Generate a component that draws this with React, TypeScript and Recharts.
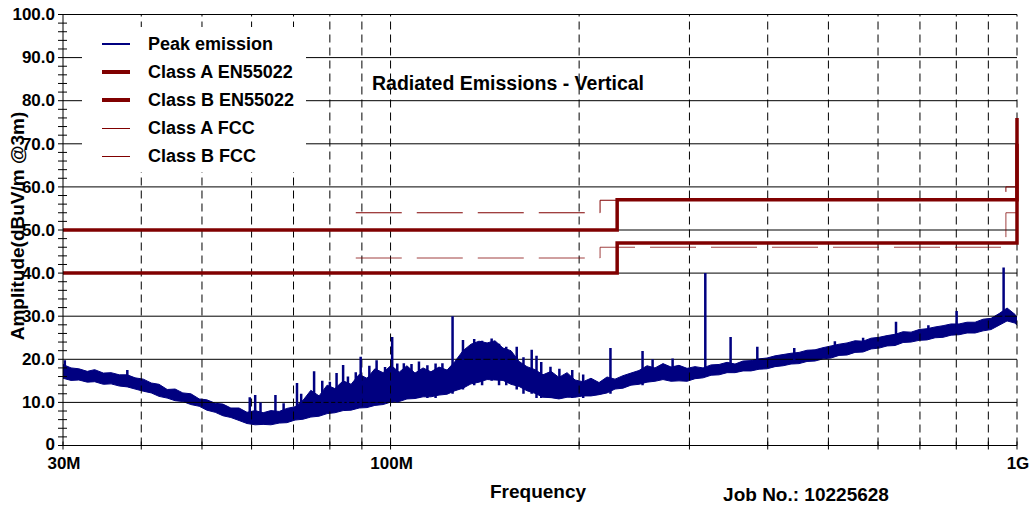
import React from "react";
import { ComposedChart, Line, Area, XAxis, YAxis, ReferenceLine, Legend } from "recharts";

const FONT = '"Liberation Sans", Arial, Helvetica, sans-serif';
const NAVY = "#000080";
const MAROON = "#800000";

// frequency axis, MHz
const xAxisTicks = [30, 40, 50, 60, 70, 80, 90, 100, 200, 300, 400, 500, 600, 700, 800, 900, 1000];
const xGridTicks = [40, 50, 60, 70, 80, 90, 100, 200, 300, 400, 500, 600, 700, 800, 900, 1000];
const xLabelTicks = [30, 100, 1000];
const xLabels = ["30M", "100M", "1G"];

// amplitude axis, dBuV/m
const yMajorTicks = [0, 10, 20, 30, 40, 50, 60, 70, 80, 90, 100];
const yMajorLabels = ["0", "10.0", "20.0", "30.0", "40.0", "50.0", "60.0", "70.0", "80.0", "90.0", "100.0"];
const yMinorTicks = [
  2, 4, 6, 8, 12, 14, 16, 18, 22, 24, 26, 28, 32, 34, 36, 38, 42, 44, 46, 48,
  52, 54, 56, 58, 62, 64, 66, 68, 72, 74, 76, 78, 82, 84, 86, 88, 92, 94, 96, 98,
];

// peak emission: noise floor band (low / high envelope)
const bandFreq = [
  30.0, 30.9, 31.8, 32.8, 33.7, 34.8, 35.8, 36.9, 38.0, 39.1,
  40.3, 41.5, 42.7, 44.0, 45.3, 46.6, 48.0, 49.5, 50.9, 52.5,
  54.0, 55.6, 57.3, 59.0, 60.8, 62.6, 64.4, 66.4, 68.3, 70.4,
  72.5, 74.6, 76.9, 79.2, 81.5, 84.0, 86.5, 89.1, 91.7, 94.4,
  97.3, 100.2, 103.2, 106.2, 109.4, 112.7, 116.0, 119.5, 123.1, 126.7,
  130.5, 134.4, 138.4, 142.6, 146.8, 151.2, 155.7, 160.4, 165.1, 170.1,
  175.1, 180.4, 185.7, 191.3, 197.0, 202.9, 208.9, 215.2, 221.6, 228.2,
  235.0, 242.0, 249.2, 256.7, 264.3, 272.2, 280.4, 288.7, 297.4, 306.2,
  315.4, 324.8, 334.5, 344.5, 354.7, 365.3, 376.2, 387.5, 399.0, 410.9,
  423.2, 435.8, 448.8, 462.2, 476.0, 490.2, 504.9, 519.9, 535.5, 551.4,
  567.9, 584.9, 602.3, 620.3, 638.8, 657.9, 677.5, 697.7, 718.5, 740.0,
  762.1, 784.8, 808.2, 832.4, 857.2, 882.8, 909.1, 936.3, 964.2, 993.0,
  1000,
];
const bandLow = [
  15.6, 15.1, 15.2, 14.7, 14.8, 14.2, 14.3, 13.8, 13.6, 13.1,
  12.6, 12.2, 11.4, 11.0, 10.4, 10.2, 9.5, 9.1, 8.2, 7.7,
  6.9, 6.5, 5.8, 5.1, 4.8, 4.9, 4.8, 5.2, 5.3, 5.9,
  6.1, 6.6, 6.8, 7.4, 7.6, 8.1, 8.2, 8.7, 8.8, 9.3,
  9.5, 10.1, 10.2, 10.8, 10.9, 11.3, 11.3, 11.7, 11.9, 12.7,
  13.3, 14.3, 14.7, 15.3, 15.2, 15.1, 14.2, 13.7, 12.7, 12.1,
  11.2, 11.1, 10.8, 11.2, 11.2, 11.5, 11.5, 11.8, 12.2, 13.1,
  13.3, 14.0, 14.2, 14.7, 14.9, 15.3, 14.9, 15.0, 14.9, 15.5,
  15.7, 16.3, 16.4, 16.9, 16.9, 17.3, 17.3, 17.7, 17.8, 18.3,
  18.5, 18.9, 19.0, 19.5, 19.6, 20.1, 20.3, 20.9, 21.0, 21.6,
  21.7, 22.4, 22.6, 23.1, 23.2, 23.9, 24.0, 24.4, 24.5, 25.0,
  25.1, 25.6, 25.7, 26.1, 26.1, 26.6, 26.9, 27.9, 28.9, 28.4,
  27.9,
];
const bandHigh = [
  18.8, 18.0, 17.8, 17.2, 17.6, 16.8, 16.9, 16.4, 16.4, 15.7,
  15.4, 14.5, 14.2, 13.0, 13.1, 12.2, 12.0, 10.8, 10.6, 9.8,
  9.6, 8.7, 8.7, 7.7, 8.1, 7.6, 8.1, 7.9, 8.6, 9.0,
  10.5, 12.8, 11.5, 14.0, 13.2, 15.0, 14.2, 16.5, 15.6, 17.8,
  16.9, 18.6, 17.0, 18.5, 16.8, 18.0, 17.1, 18.2, 17.5, 19.5,
  22.0, 23.5, 24.2, 23.8, 24.3, 22.6, 22.0, 19.5, 18.3, 17.6,
  16.4, 17.2, 15.8, 16.9, 15.2, 14.8, 15.6, 14.6, 15.9, 15.4,
  16.2, 16.8, 17.4, 18.5, 18.0, 19.0, 18.2, 18.6, 17.9, 18.3,
  18.0, 18.7, 18.8, 19.3, 18.9, 19.6, 19.7, 20.1, 20.3, 20.8,
  21.1, 21.4, 21.6, 22.1, 22.2, 22.7, 23.1, 23.5, 23.8, 24.3,
  24.2, 24.9, 25.1, 25.5, 25.8, 26.4, 26.3, 26.9, 27.1, 27.5,
  27.8, 28.2, 28.2, 28.6, 28.6, 29.3, 29.5, 30.6, 31.9, 30.4,
  29.8,
];

// peak emission: narrow spikes above the floor
const spikeFreq = [
  30.2, 38.0, 59.6, 60.8, 62.0, 65.5, 67.5, 70.9, 72.0, 75.5,
  77.8, 80.0, 82.0, 84.0, 85.5, 88.0, 89.6, 92.5, 95.0, 98.0,
  100.6, 102.5, 105.0, 108.0, 111.0, 114.5, 118.0, 121.0, 125.6, 130.5,
  136.0, 140.0, 145.0, 149.0, 153.0, 159.0, 163.0, 168.0, 171.0, 174.0,
  180.0, 186.0, 195.0, 203.0, 224.4, 252.5, 262.0, 282.0, 318.0, 349.0,
  385.0, 441.0, 512.0, 568.0, 641.0, 722.0, 801.0, 952.0,
];
const spikeBase = [
  16, 15, 6, 6, 6, 6, 6, 7, 7, 8,
  8, 8, 9, 9, 9, 9, 9, 10, 10, 10,
  10, 10, 11, 11, 11, 11, 11, 12, 12, 13,
  14, 14, 15, 14, 14, 13, 12, 12, 11, 11,
  11, 11, 11, 11, 12, 14, 15, 15, 16, 17,
  18, 19, 21, 22, 24, 25, 26, 29,
];
const spikeTop = [
  19.8, 17.5, 11.2, 11.7, 10.0, 11.7, 9.8, 14.5, 12.0, 17.2,
  15.0, 14.8, 16.8, 18.7, 16.0, 17.0, 20.6, 18.5, 19.8, 18.2,
  25.2, 19.0, 19.1, 18.9, 19.5, 18.6, 19.0, 19.1, 30.0, 24.5,
  24.7, 24.3, 24.8, 23.6, 22.9, 22.9, 20.5, 22.2, 20.8, 19.4,
  18.3, 17.8, 17.5, 16.5, 22.6, 21.9, 20.0, 20.2, 40.0, 25.2,
  22.9, 22.6, 24.2, 25.0, 28.7, 27.9, 31.2, 41.3,
];

// EN55022 limits
const enFreq = [30, 230, 1000, 1000];
const classAEN = [50, 57, 57, 76];
const classBEN = [40, 47, 47, 70];

// FCC limits (drawn from 88 MHz; below that they sit under the EN lines)
const fccFreq = [88, 216, 960, 1000];
const classAFCC = [54, 56.9, 60, 60];
const classBFCC = [43.5, 46, 54, 54];

const legendOrder = ["Peak emission", "Class A EN55022", "Class B EN55022", "Class A FCC", "Class B FCC"];
const legendLineWidth: Record<string, number> = {
  "Peak emission": 2,
  "Class A EN55022": 4,
  "Class B EN55022": 4,
  "Class A FCC": 1,
  "Class B FCC": 1,
};

const bandRows = bandFreq.map((f, i) => ({ f, range: [bandLow[i], bandHigh[i]] }));
const spikeRows = spikeFreq.flatMap((f, i) => [
  { f, s: spikeBase[i] },
  { f, s: spikeTop[i] },
  { f, s: null },
]);
const enRows = enFreq.map((f, i) => ({ f, a: classAEN[i], b: classBEN[i] }));
const fccRows = fccFreq.map((f, i) => ({ f, a: classAFCC[i], b: classBFCC[i] }));
const yAllTicks = [...yMajorTicks, ...yMinorTicks].sort((a, b) => a - b);

const YTick = (props: any) => {
  const { x, y, payload } = props;
  const idx = yMajorTicks.indexOf(payload.value);
  if (idx < 0) {
    return <line x1={x - 5} x2={x + 4} y1={y} y2={y} stroke="#000" strokeWidth={1} />;
  }
  return (
    <g>
      <line x1={x - 5} x2={x} y1={y} y2={y} stroke="#000" strokeWidth={1} />
      <text
        x={x - 8}
        y={idx === 0 ? y - 1 : y}
        dy="0.34em"
        textAnchor="end"
        fontFamily={FONT}
        fontWeight="bold"
        fontSize={17}
        fill="#000"
      >
        {yMajorLabels[idx]}
      </text>
    </g>
  );
};

const XTick = (props: any) => {
  const { x, y, payload } = props;
  const idx = xLabelTicks.indexOf(payload.value);
  return (
    <g>
      <line x1={x} x2={x} y1={y - 4} y2={y + 4} stroke="#000" strokeWidth={1} />
      {idx >= 0 && (
        <text x={x + 1} y={y + 23} textAnchor="middle" fontFamily={FONT} fontWeight="bold" fontSize={17} fill="#000">
          {xLabels[idx]}
        </text>
      )}
    </g>
  );
};

const renderLegend = (props: any) => {
  const payload = props.payload || [];
  return (
    <div style={{ background: "#fff", width: 224, height: 145, paddingTop: 3, boxSizing: "border-box" }}>
      {legendOrder.map((name) => {
        const item = payload.find((p: any) => p.value === name);
        const color = item && item.color ? item.color : MAROON;
        return (
          <div key={name} style={{ height: 28, display: "flex", alignItems: "center" }}>
            <div style={{ marginLeft: 20, width: 28, height: legendLineWidth[name], background: color }} />
            <span style={{ marginLeft: 18, fontFamily: FONT, fontWeight: "bold", fontSize: 18, color: "#000", whiteSpace: "nowrap" }}>
              {name}
            </span>
          </div>
        );
      })}
    </div>
  );
};

const textStyle: React.CSSProperties = {
  position: "absolute",
  fontFamily: FONT,
  fontWeight: "bold",
  color: "#000",
  whiteSpace: "nowrap",
  transform: "translate(-50%, -50%)",
};

export default function App() {
  return (
    <div style={{ position: "absolute", left: 0, top: 0, width: 1032, height: 508, background: "#fff" }}>
      <ComposedChart width={1032} height={508} margin={{ top: 14.5, right: 15, bottom: 32, left: 0 }}>
        <XAxis
          dataKey="f"
          type="number"
          scale="log"
          domain={[30, 1000]}
          ticks={xAxisTicks}
          interval={0}
          height={30.5}
          tickSize={0}
          tickMargin={0}
          tickLine={false}
          tick={<XTick />}
          axisLine={{ stroke: "#000", strokeWidth: 1 }}
        />
        <YAxis
          type="number"
          domain={[0, 100]}
          ticks={yAllTicks}
          interval={0}
          width={63}
          tickSize={0}
          tickMargin={0}
          tickLine={false}
          tick={<YTick />}
          axisLine={{ stroke: "#000", strokeWidth: 1 }}
        />
        {yMajorTicks.filter((v) => v > 0).map((v) => (
          <ReferenceLine key={"h" + v} y={v} stroke="#000" strokeWidth={1} />
        ))}
        {xGridTicks.map((v) => (
          <ReferenceLine key={"v" + v} x={v} stroke="#000" strokeWidth={1} strokeDasharray="8 5" />
        ))}
        <Line
          data={fccRows}
          dataKey="a"
          name="Class A FCC"
          type="stepAfter"
          stroke={MAROON}
          strokeWidth={1}
          strokeDasharray="46 15"
          dot={false}
          isAnimationActive={false}
        />
        <Line
          data={fccRows}
          dataKey="b"
          name="Class B FCC"
          type="stepAfter"
          stroke={MAROON}
          strokeOpacity={0.75}
          strokeWidth={1}
          strokeDasharray="46 15"
          dot={false}
          isAnimationActive={false}
        />
        <Area
          data={bandRows}
          dataKey="range"
          name="Peak emission"
          type="linear"
          stroke={NAVY}
          strokeWidth={1}
          fill={NAVY}
          fillOpacity={1}
          dot={false}
          isAnimationActive={false}
        />
        <Line
          data={spikeRows}
          dataKey="s"
          name="spikes"
          legendType="none"
          type="linear"
          stroke={NAVY}
          strokeWidth={2.5}
          dot={false}
          connectNulls={false}
          isAnimationActive={false}
        />
        <Line
          data={enRows}
          dataKey="a"
          name="Class A EN55022"
          type="stepAfter"
          stroke={MAROON}
          strokeWidth={3.5}
          dot={false}
          isAnimationActive={false}
        />
        <Line
          data={enRows}
          dataKey="b"
          name="Class B EN55022"
          type="stepAfter"
          stroke={MAROON}
          strokeWidth={3.5}
          dot={false}
          isAnimationActive={false}
        />
        <Legend
          layout="vertical"
          align="center"
          verticalAlign="middle"
          content={renderLegend}
          wrapperStyle={{ position: "absolute", left: 82, top: 27, width: 224, height: 145 }}
        />
      </ComposedChart>
      <div style={{ ...textStyle, left: 508, top: 83, fontSize: 19.5 }}>Radiated Emissions - Vertical</div>
      <div style={{ ...textStyle, left: 538, top: 492, fontSize: 19 }}>Frequency</div>
      <div style={{ ...textStyle, left: 806, top: 495, fontSize: 19 }}>Job No.: 10225628</div>
      <div style={{ ...textStyle, left: 18, top: 226, fontSize: 19, transform: "translate(-50%, -50%) rotate(-90deg)" }}>
        Amplitude(dBuV/m @3m)
      </div>
    </div>
  );
}
